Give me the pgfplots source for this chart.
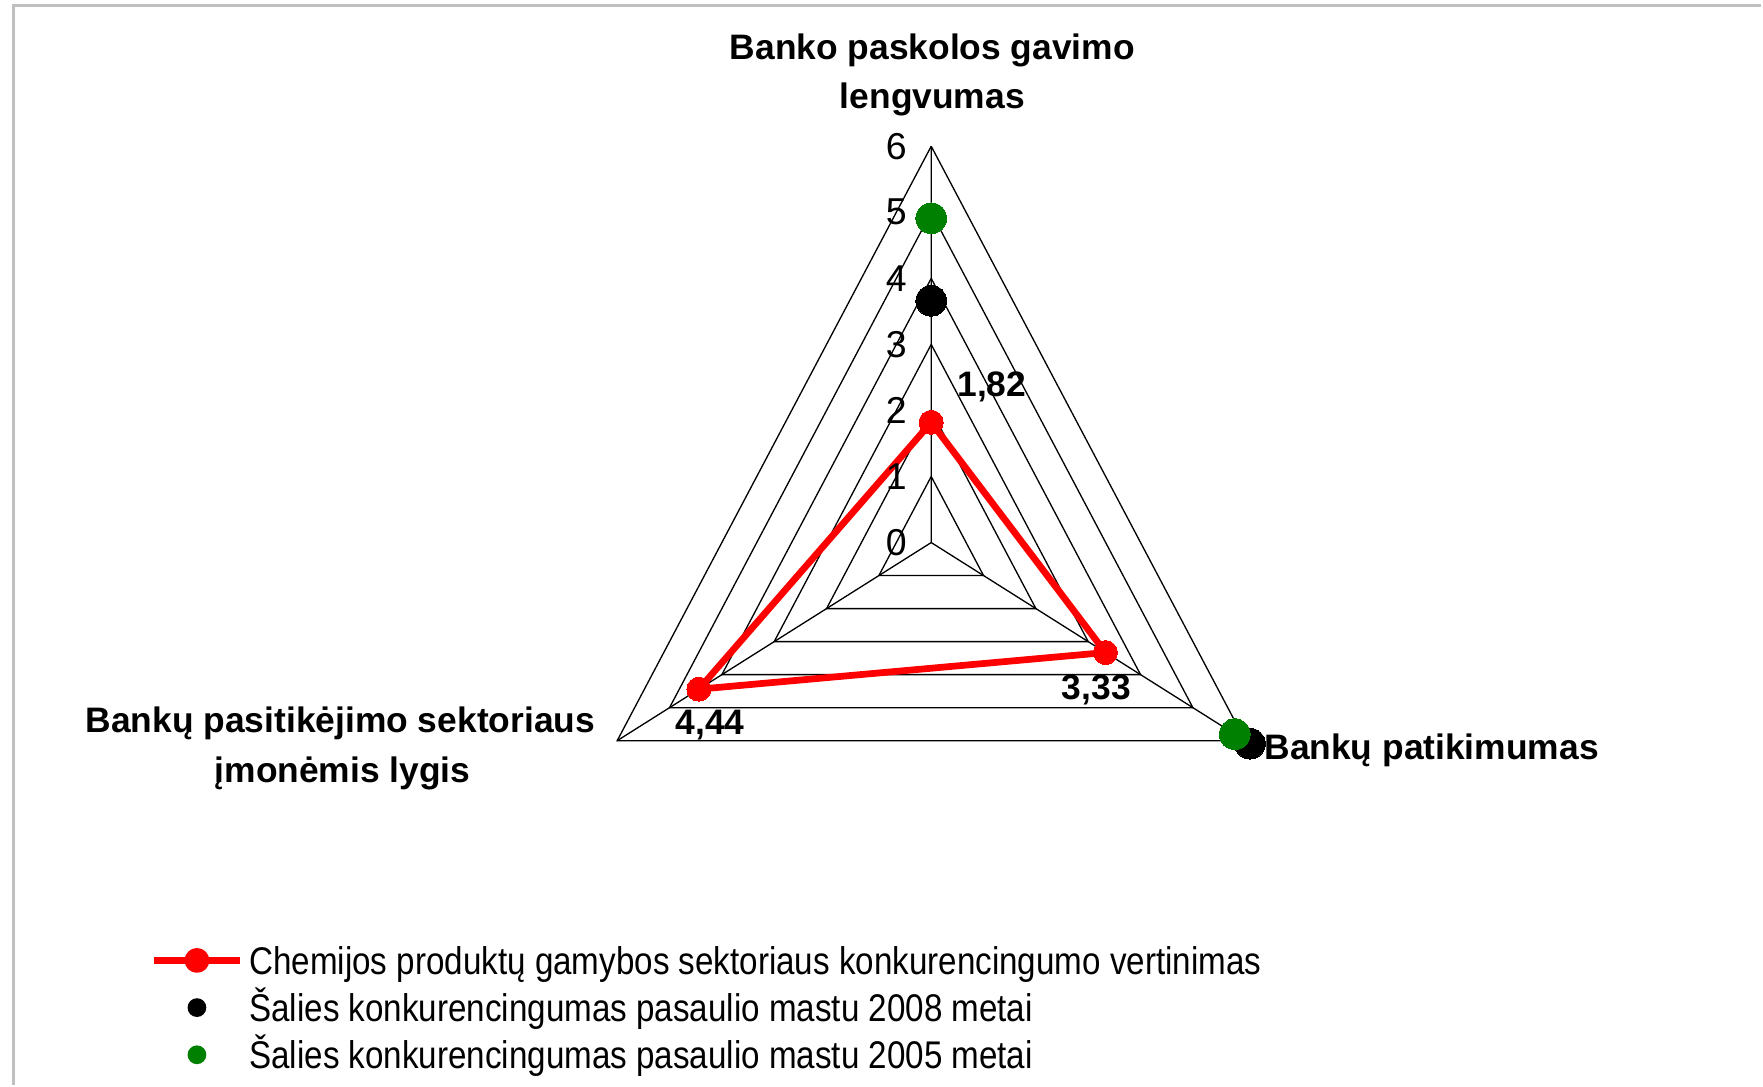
\documentclass[border=0pt]{standalone}
\usepackage{fontspec}
\setmainfont{Liberation Sans}
\newfontfamily\legfont[FakeStretch=0.86]{Liberation Sans}
\usepackage{pgfplots}
\usepackage{pgfplotstable}
\pgfplotsset{compat=1.18}
\definecolor{xlgreen}{RGB}{0,128,0}
\definecolor{xlred}{RGB}{255,0,0}
\definecolor{framegray}{RGB}{192,192,192}

% angle (deg) and value on the radar
\pgfplotstableread{
a r
90 1.82
-30 3.33
210 4.44
90 1.82
}\redtab
\pgfplotstableread{
a r
90 3.66
-30 6.09
}\blacktab
\pgfplotstableread{
a r
90 4.91
-30 5.80
}\greentab
\pgfplotstableread{
a r
90 1
-30 1
210 1
90 1
}\tritab
\pgfplotstableread{
a r
90 6
90 0
-30 6
-30 0
210 6
}\spoketab

\begin{document}
\begin{tikzpicture}
\begin{axis}[
  x=0.3pt, y=0.3pt,
  xmin=0, xmax=1568, ymin=0, ymax=966,
  hide axis, clip=false,
  legend cell align=left,
  legend style={at={(axis cs:134,132)}, anchor=north west, draw=none, fill=none,
    inner sep=0pt, outer sep=0pt,
    font=\legfont\fontsize{10.3}{12}\selectfont,
    nodes={inner xsep=0.2pt, inner ysep=1.5pt, text height=8.5pt, text depth=1.1pt},
    /tikz/every odd column/.style={column sep=1.4pt}},
]
\path (axis cs:0,0) rectangle (axis cs:1568,966);
\draw[framegray, line width=0.9pt] (axis cs:12,0) -- (axis cs:12,961) -- (axis cs:1568,961);

% grid triangles
\pgfplotsinvokeforeach{1,2,3,4,5,6}{
  \addplot[black, line width=0.35pt, no markers, forget plot]
    table[x expr={829+53.8*#1*\thisrow{r}*cos(\thisrow{a})}, y expr={483+58.8*#1*\thisrow{r}*sin(\thisrow{a})}]{\tritab};
}
\addplot[black, line width=0.35pt, no markers, forget plot]
  table[x expr={829+53.8*\thisrow{r}*cos(\thisrow{a})}, y expr={483+58.8*\thisrow{r}*sin(\thisrow{a})}]{\spoketab};

% data
\addplot[xlred, line width=1.8pt, line join=round, mark=*, mark size=3.2pt,
  mark options={solid, fill=xlred, draw=xlred, line width=0pt},
  legend image code/.code={\draw[xlred, line width=1.8pt] (0pt,0pt) -- (23pt,0pt);
    \fill[xlred] (11.5pt,0pt) circle (2.4pt);}]
  table[x expr={829+53.8*\thisrow{r}*cos(\thisrow{a})}, y expr={483+58.8*\thisrow{r}*sin(\thisrow{a})}]{\redtab};
\addlegendentry{Chemijos produktų gamybos sektoriaus konkurencingumo vertinimas}
\addplot[only marks, mark=*, mark size=4.1pt, mark options={fill=black, draw=black, line width=0pt},
  legend image code/.code={\fill[black] (11.5pt,0pt) circle (2.3pt);}]
  table[x expr={829+53.8*\thisrow{r}*cos(\thisrow{a})}, y expr={483+58.8*\thisrow{r}*sin(\thisrow{a})}]{\blacktab};
\addlegendentry{Šalies konkurencingumas pasaulio mastu 2008 metai}
\addplot[only marks, mark=*, mark size=4.1pt, mark options={fill=xlgreen, draw=xlgreen, line width=0pt},
  legend image code/.code={\fill[xlgreen] (11.5pt,0pt) circle (2.3pt);}]
  table[x expr={829+53.8*\thisrow{r}*cos(\thisrow{a})}, y expr={483+58.8*\thisrow{r}*sin(\thisrow{a})}]{\greentab};
\addlegendentry{Šalies konkurencingumas pasaulio mastu 2005 metai}

% radial tick labels
\begin{scope}[every node/.style={font=\fontsize{10}{12}\selectfont, anchor=center, inner sep=0pt}]
\node at (axis cs:798,483) {0};
\node at (axis cs:798,541.8) {1};
\node at (axis cs:798,600.6) {2};
\node at (axis cs:798,659.4) {3};
\node at (axis cs:798,718.2) {4};
\node at (axis cs:798,777) {5};
\node at (axis cs:798,835.8) {6};
\end{scope}

% category labels and data labels
\begin{scope}[every node/.style={font=\bfseries\fontsize{9.45}{12}\selectfont, inner sep=0pt}]
\node[anchor=base] at (axis cs:830,913) {Banko paskolos gavimo};
\node[anchor=base] at (axis cs:830,869) {lengvumas};
\node[anchor=base west] at (axis cs:1125,290) {Bankų patikimumas};
\node[anchor=base] at (axis cs:303,314) {Bankų pasitikėjimo sektoriaus};
\node[anchor=base] at (axis cs:305,269) {įmonėmis lygis};
\node[anchor=base] at (axis cs:883,613) {1,82};
\node[anchor=base] at (axis cs:976,343) {3,33};
\node[anchor=base] at (axis cs:632,312) {4,44};
\end{scope}
\end{axis}
\end{tikzpicture}
\end{document}
